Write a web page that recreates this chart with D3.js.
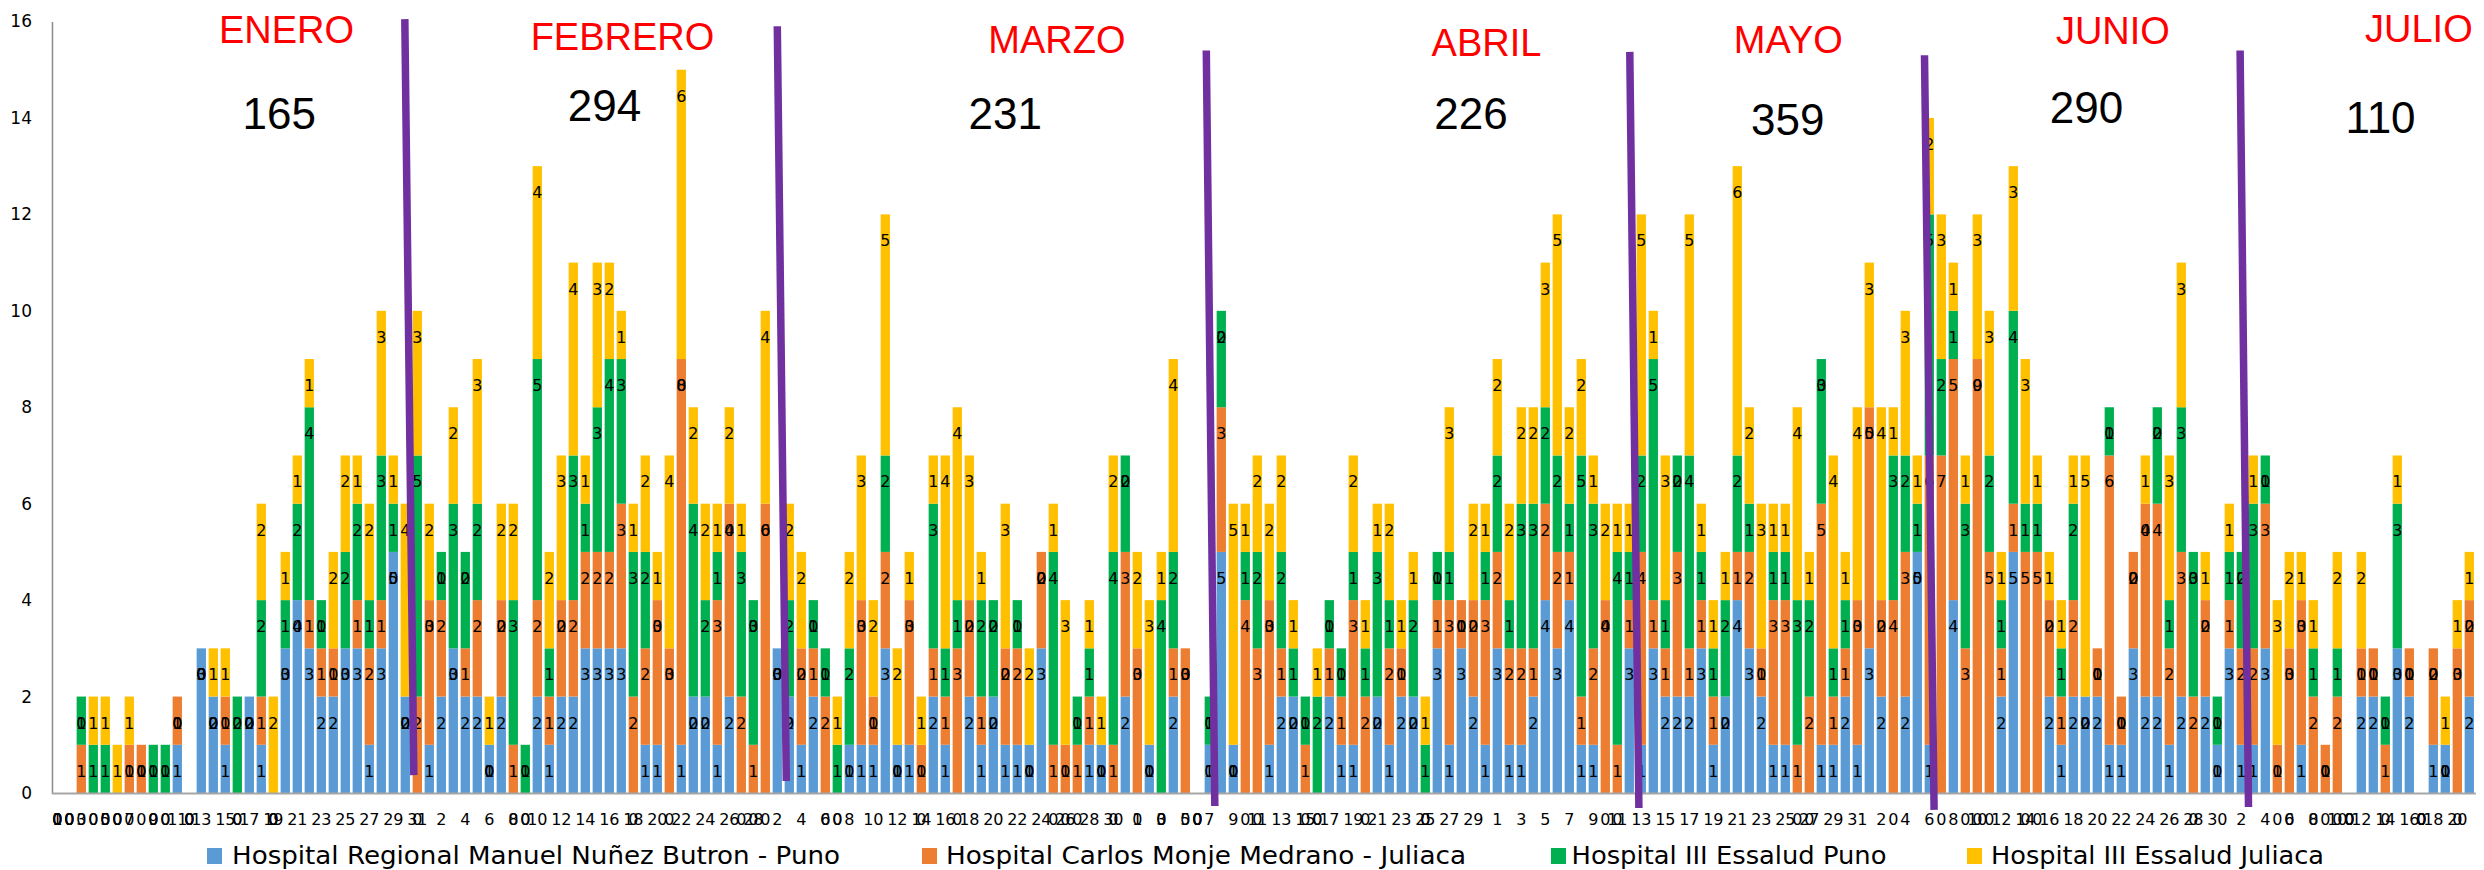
<!DOCTYPE html>
<html><head><meta charset="utf-8">
<script src="https://cdn.jsdelivr.net/npm/d3@7"></script>
<style>html,body{margin:0;padding:0;background:#fff;} svg{display:block}</style>
</head><body>
<svg id="chart" width="2484" height="870"></svg>
<script>
// ---------- DATA ----------
const monthLengths = [31, 28, 31, 30, 31, 30, 21]; // Jan .. Jul 21
const seriesNames = [
  "Hospital Regional Manuel Nuñez Butron - Puno",
  "Hospital Carlos Monje Medrano - Juliaca",
  "Hospital III Essalud Puno",
  "Hospital III Essalud Juliaca"
];
const hrPuno = [
  0,0,0,0,0,0,0,0,0,0, 1,0,3,2,1,0,2,1,0,3, 4,3,2,2,3,3,1,3,5,2, 0,1,2,3,2,2,1,2,0,0,
  2,1,2,2,3,3,3,3,0,1, 1,0,1,2,2,1,2,0,0,0, 3,2,1,2,0,0,1,1,1,3, 1,1,0,2,1,0,2,1,2,1,
  1,1,3,0,0,0,1,1,0,2, 0,1,0,2,0,0,1,5,1,0, 0,1,2,2,0,0,2,1,1,0, 2,1,2,2,0,3,1,3,2,1,
  3,1,1,2,4,3,4,1,1,0, 0,3,1,3,2,2,2,3,1,2, 4,3,2,1,1,0,0,1,1,2, 1,3,2,0,2,5,1,0,4,0,
  0,0,2,5,0,0,2,1,2,2, 2,1,1,3,2,2,1,2,0,2, 1,3,1,1,3,0,0,1,0,0, 0,0,2,2,0,3,2,0,1,1,
  0,2
];
const hcmJuliaca = [
  0,0,1,0,0,0,1,1,0,0, 1,0,0,0,1,0,0,1,0,0, 0,1,1,1,0,1,2,1,0,0, 2,3,2,0,1,2,0,2,1,0,
  2,1,2,2,2,2,2,3,2,2, 3,3,8,0,0,3,4,2,1,6, 0,0,2,1,2,0,0,3,1,2, 0,3,1,1,1,3,2,1,0,2,
  2,0,2,1,1,1,1,0,1,3, 3,0,0,1,3,0,0,3,0,4, 3,3,1,0,1,0,1,1,3,2, 0,2,1,0,0,1,3,1,2,3,
  2,2,2,1,2,2,1,1,2,4, 1,1,4,1,1,3,1,1,1,0, 1,2,1,3,3,1,2,5,1,1, 3,5,2,4,3,0,6,7,5,3,
  9,5,1,1,5,5,2,1,2,0, 1,6,1,2,4,4,2,3,2,2, 0,1,2,2,3,1,3,3,2,1, 2,0,1,1,1,0,1,0,2,0,
  3,2
];
const essaludPuno = [
  0,0,1,1,1,0,0,0,1,1, 0,0,0,0,0,2,0,2,0,1, 2,4,1,0,2,2,1,3,1,0, 5,0,1,3,2,2,0,0,3,1,
  5,1,0,3,1,3,4,3,3,2, 0,0,0,4,2,1,0,3,3,0, 0,2,0,1,1,1,2,0,0,2, 0,0,0,3,1,1,0,2,2,0,
  1,0,0,4,0,1,1,0,4,2, 0,0,4,2,0,0,1,2,0,1, 2,0,2,1,1,2,1,1,1,1, 3,1,0,2,1,1,1,0,0,1,
  2,1,3,3,2,2,1,5,3,0, 4,1,2,5,1,2,4,1,1,2, 2,1,0,1,1,3,2,3,1,1, 0,0,0,3,2,1,5,2,1,3,
  0,2,1,4,1,1,0,1,2,0, 0,1,0,0,0,2,1,3,3,0, 1,1,2,3,1,0,0,0,1,0, 1,0,0,0,1,3,0,0,0,0,
  0,0
];
const essaludJuliaca = [
  0,0,0,1,1,1,1,0,0,0, 0,0,0,1,1,0,0,2,2,1, 1,1,0,2,2,1,2,3,1,4, 3,2,0,2,0,3,1,2,2,0,
  4,2,3,4,1,3,2,1,1,2, 1,4,6,2,2,1,2,1,0,4, 0,2,2,0,0,1,2,3,2,5, 2,1,1,1,4,4,3,1,0,3,
  0,2,0,1,3,0,1,1,2,0, 2,3,1,4,0,0,0,0,5,1, 2,2,2,1,0,1,0,0,2,1, 1,2,1,1,1,0,3,0,2,1,
  2,2,2,2,3,5,2,2,1,2, 1,1,5,1,3,0,5,1,1,1, 6,2,3,1,1,4,1,0,4,1, 4,3,4,1,3,1,2,3,1,1,
  3,3,1,3,3,1,1,1,1,5, 0,0,0,0,1,0,3,3,0,1, 0,1,0,1,0,3,2,1,1,0, 2,0,2,0,0,1,0,0,0,1,
  1,1
];
const yTickValues = [0, 2, 4, 6, 8, 10, 12, 14, 16];
const monthNames = ["ENERO", "FEBRERO", "MARZO", "ABRIL", "MAYO", "JUNIO", "JULIO"];
const monthTotals = ["165", "294", "231", "226", "359", "290", "110"];

// ---------- LAYOUT (annotation placement, in day-index / value units) ----------
const nameAt  = [[19.1,15.55],[47.1,15.41],[83.3,15.35],[119.1,15.28],[144.25,15.35],[171.3,15.53],[196.8,15.57]];
const totalAt = [[18.5,13.77],[45.6,13.94],[79.0,13.77],[117.8,13.77],[144.2,13.65],[169.1,13.89],[193.6,13.69]];
const dividerAt = [
  [[28.96,16.05],[29.71,0.37]],
  [[60.0,15.9],[60.75,0.25]],
  [[95.75,15.4],[96.46,-0.27]],
  [[131.04,15.37],[131.8,-0.31]],
  [[155.6,15.3],[156.4,-0.35]],
  [[181.9,15.4],[182.6,-0.29]]
];
const colors = ["#5B9BD5", "#ED7D31", "#00B050", "#FFC000"];

// ---------- BUILD ----------
const dayLabels = [];
monthLengths.forEach(n => { for (let d = 1; d <= n; d++) dayLabels.push(String(d)); });
const N = dayLabels.length;
const series = [hrPuno, hcmJuliaca, essaludPuno, essaludJuliaca];
const rows = d3.range(N).map(i => { const r = {i}; series.forEach((s, k) => r["s" + k] = s[i]); return r; });
const keys = ["s0", "s1", "s2", "s3"];
const stacked = d3.stack().keys(keys)(rows);

const svg = d3.select("#chart");
const plot = {left: 51.3, right: 2475.3, top: 21.5, bottom: 793};
const x = d3.scaleBand().domain(d3.range(N)).range([plot.left, plot.right]).paddingInner(0.225).paddingOuter(0.1125);
const xf = d3.scaleLinear().domain([-0.5, N - 0.5]).range([plot.left, plot.right]);
const y = d3.scaleLinear().domain([0, 16]).range([plot.bottom, plot.top]);

// bars
svg.append("g").selectAll("g").data(stacked).join("g")
  .attr("fill", (d, k) => colors[k])
  .selectAll("rect").data(d => d).join("rect")
  .attr("x", d => x(d.data.i))
  .attr("y", d => y(d[1]))
  .attr("width", x.bandwidth())
  .attr("height", d => y(d[0]) - y(d[1]));

// axes
const yAxis = svg.append("g").attr("transform", `translate(${plot.left + 0.7},0)`)
  .call(d3.axisLeft(y).tickValues(yTickValues).tickSize(0).tickSizeOuter(0).tickPadding(20));
yAxis.select(".domain").attr("stroke", "#8c8c8c").attr("stroke-width", 1.5);
yAxis.selectAll("text").attr("font-family", "DejaVu Sans").attr("font-size", 17).attr("fill", "#000");

const xAxis = svg.append("g").attr("transform", `translate(0,${plot.bottom})`)
  .call(d3.axisBottom(x).tickSize(0).tickSizeOuter(0).tickPadding(21)
    .tickFormat(i => i % 2 === 0 ? dayLabels[i] : ""));
xAxis.select(".domain").attr("stroke", "#a6a6a6").attr("stroke-width", 2);
xAxis.selectAll("text").attr("font-family", "DejaVu Sans").attr("font-size", 16).attr("fill", "#000");

// data labels (inside end)
const lab = svg.append("g").attr("font-family", "DejaVu Sans").attr("font-size", 16)
  .attr("fill", "#000").attr("text-anchor", "middle");
stacked.forEach(layer => {
  lab.selectAll(null).data(layer).join("text")
    .attr("x", d => xf(d.data.i))
    .attr("y", d => y(d[1]) + 32)
    .text(d => d[1] - d[0]);
});

// month dividers
svg.append("g").selectAll("line").data(dividerAt).join("line")
  .attr("x1", d => xf(d[0][0])).attr("y1", d => y(d[0][1]))
  .attr("x2", d => xf(d[1][0])).attr("y2", d => y(d[1][1]))
  .attr("stroke", "#7030A0").attr("stroke-width", 7.5);

// month names and totals
svg.append("g").selectAll("text").data(monthNames).join("text")
  .attr("x", (d, i) => xf(nameAt[i][0])).attr("y", (d, i) => y(nameAt[i][1]))
  .attr("text-anchor", "middle").attr("font-family", "Liberation Sans").attr("font-size", 38)
  .attr("fill", "#FF0000").text(d => d);
svg.append("g").selectAll("text").data(monthTotals).join("text")
  .attr("x", (d, i) => xf(totalAt[i][0])).attr("y", (d, i) => y(totalAt[i][1]))
  .attr("text-anchor", "middle").attr("font-family", "Liberation Sans").attr("font-size", 44)
  .attr("fill", "#000").text(d => d);

// legend
const legendLayout = [
  {sx: 207, tx: 232, tw: 608},
  {sx: 922, tx: 946, tw: 520},
  {sx: 1551, tx: 1571.5, tw: 315},
  {sx: 1967, tx: 1991, tw: 333}
];
const lg = svg.append("g");
seriesNames.forEach((name, k) => {
  const L = legendLayout[k];
  lg.append("rect").attr("x", L.sx).attr("y", 848).attr("width", 15).attr("height", 16).attr("fill", colors[k]);
  lg.append("text").attr("x", L.tx).attr("y", 864).attr("font-family", "DejaVu Sans").attr("font-size", 24)
    .attr("fill", "#000").attr("textLength", L.tw).attr("lengthAdjust", "spacingAndGlyphs").text(name);
});
</script>
</body></html>
